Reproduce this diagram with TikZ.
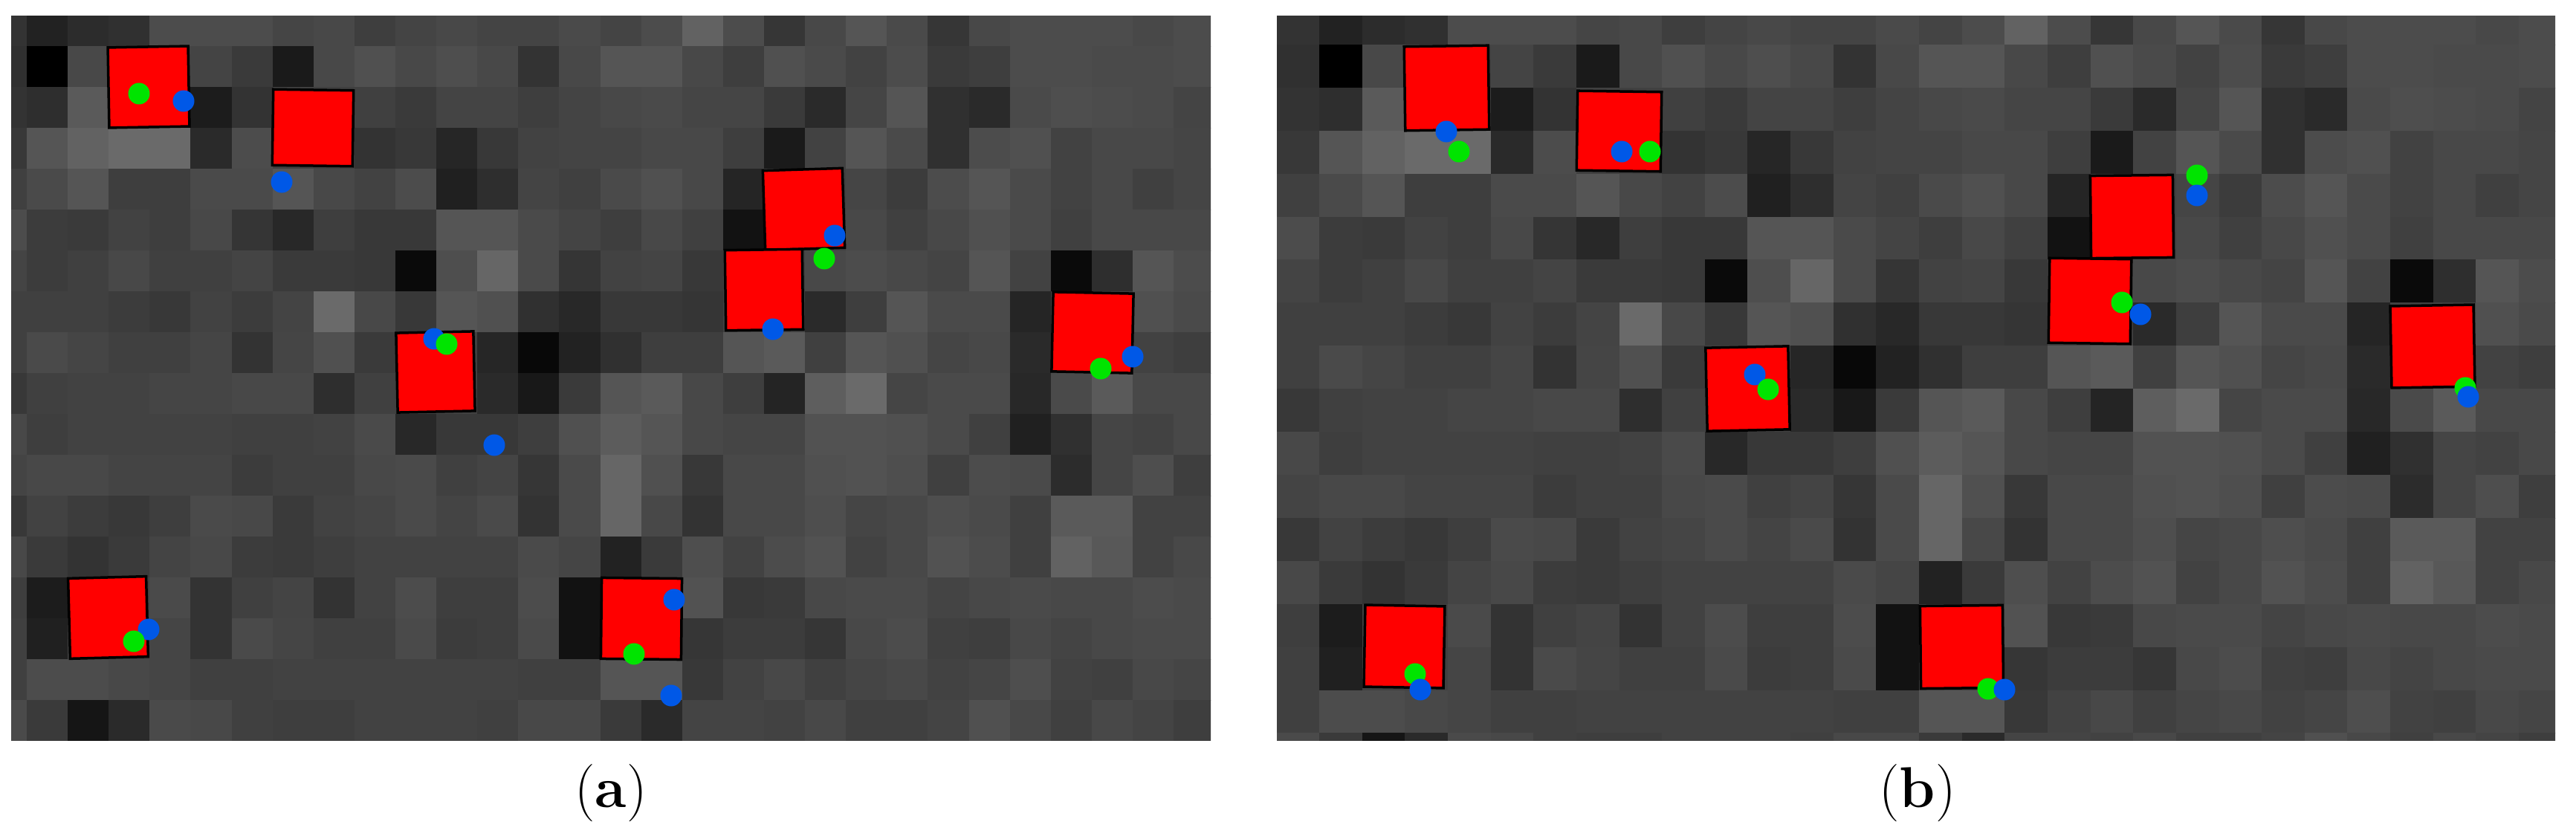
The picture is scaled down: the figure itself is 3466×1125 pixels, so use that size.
\documentclass[tikz,border=0pt]{standalone}
\usepackage{tikz}
\definecolor{boxred}{RGB}{255,0,0}
\definecolor{dotgreen}{RGB}{0,228,0}
\definecolor{dotblue}{RGB}{0,88,231}
\tikzset{
  boxst/.style={fill=boxred, draw=black, line width=0.035cm, line join=miter},
  gdot/.style={fill=dotgreen},
  bdot/.style={fill=dotblue},
  lbl/.style={anchor=base, inner sep=0pt, font=\fontsize{22}{26}\selectfont}
}
\newcommand\imgrows{%
0/{51,34,44,48,76,76,76,69,72,62,68,72,68,68,74,68,76,98,76,54,72,85,74,54,72,76,76,76,72,76},
1/{48,0,72,64,64,68,58,26,72,80,72,78,72,51,72,85,85,72,62,80,74,66,76,58,62,76,76,74,74,76},
2/{51,46,90,64,64,28,51,64,64,64,58,68,68,62,68,72,74,69,69,58,42,69,85,48,42,74,78,76,74,68},
3/{56,85,98,106,106,42,76,64,64,51,56,38,56,66,68,68,72,72,62,26,66,85,74,48,76,80,66,72,72,69},
4/{64,74,85,62,62,74,74,85,72,66,76,32,46,68,64,74,80,72,37,64,64,69,60,76,85,74,66,72,64,69},
5/{76,60,58,66,62,72,53,40,62,56,56,85,85,74,68,62,72,64,18,64,64,72,64,72,80,74,64,72,72,72},
6/{68,60,64,72,64,64,68,58,58,56,10,78,102,74,53,66,68,56,64,64,72,76,72,68,85,66,10,46,85,76},
7/{64,64,64,60,56,66,60,68,106,72,56,85,80,48,40,56,56,53,64,64,42,62,85,74,74,37,64,64,80,74},
8/{64,74,69,64,64,69,51,69,80,58,64,64,38,8,34,48,62,62,85,90,64,85,80,69,72,42,64,64,66,62},
9/{56,64,66,66,69,69,72,72,46,64,64,64,42,24,58,85,90,72,62,36,94,106,69,74,74,40,74,90,72,72},
10/{72,62,66,66,66,66,64,64,66,74,40,56,56,62,80,92,85,72,69,69,82,82,80,74,64,32,48,69,66,72},
11/{68,72,72,68,68,68,60,64,64,72,74,64,68,54,74,102,80,56,72,72,80,82,78,64,76,74,44,69,78,62},
12/{56,66,60,56,62,74,72,58,66,69,74,68,74,51,74,102,72,51,72,72,78,69,72,78,74,64,90,90,66,66},
13/{72,58,51,58,68,72,60,58,62,66,66,66,66,74,69,34,58,78,66,76,82,66,72,82,76,64,98,88,66,72},
14/{62,28,64,64,74,51,64,68,51,66,76,62,62,76,18,64,64,82,56,58,72,74,74,68,72,74,72,72,76,74},
15/{64,32,64,64,69,51,74,69,64,64,74,60,62,74,18,64,64,54,60,60,54,72,76,64,62,72,68,72,74,74},
16/{64,76,76,72,69,64,64,66,66,66,66,66,66,64,64,85,85,56,66,72,64,69,72,66,69,78,66,64,72,69},
17/{74,58,21,42,74,72,64,62,62,66,66,66,64,72,72,58,42,68,68,66,72,64,64,68,80,72,64,72,68,62}}
% #1 x0, #2 y0, #3 cell width, #4 cell height, #5 clip corner 1, #6 clip corner 2
\newcommand\drawgrid[6]{%
  \begin{scope}
    \clip (#5) rectangle (#6);
    \foreach \r/\vals in \imgrows {
      \foreach \v [count=\c from 0] in \vals {
        \fill[fill={rgb,255:red,\v;green,\v;blue,\v}]
          ({#1+\c*#3},{#2+\r*#4}) rectangle ++({#3+0.8},{#4+0.8});
      }
    }
  \end{scope}}
% red box: x1,y1,x2,y2, rotation angle
\newcommand\redbox[5]{%
  \filldraw[boxst, rotate around={#5:({(#1+#3)/2},{(#2+#4)/2})}] (#1,#2) rectangle (#3,#4);}
\begin{document}
\begin{tikzpicture}[x=0.01cm, y=-0.01cm]
\useasboundingbox (0,0) rectangle (3466,1125);
\fill[white] (0,0) rectangle (3466,1125);

% ---------------- panel (a) ----------------
\drawgrid{-19.11}{7.0}{55.11}{55.0}{15,22}{1629,996}
\redbox{146}{63}{254}{171}{1}
\redbox{367}{121}{475}{223}{-0.8}
\redbox{534}{447}{638}{554}{1.2}
\redbox{1028}{228}{1135}{335}{1.8}
\redbox{976}{336}{1080}{444}{0.8}
\redbox{1416}{394}{1524}{501}{-1.2}
\redbox{93}{777}{198}{885}{1.5}
\redbox{809}{778}{917}{887}{-0.6}

\fill[gdot] (187,126) circle[radius=0.145cm];
\fill[bdot] (247,136) circle[radius=0.145cm];
\fill[bdot] (379,245) circle[radius=0.145cm];
\fill[bdot] (584,456) circle[radius=0.145cm];
\fill[gdot] (601,463) circle[radius=0.145cm];
\fill[bdot] (665,599) circle[radius=0.145cm];
\fill[bdot] (1123,317) circle[radius=0.145cm];
\fill[gdot] (1109,348) circle[radius=0.145cm];
\fill[bdot] (1040,443) circle[radius=0.145cm];
\fill[gdot] (1481,496) circle[radius=0.145cm];
\fill[bdot] (1524,480) circle[radius=0.145cm];
\fill[bdot] (200,847) circle[radius=0.145cm];
\fill[gdot] (180,863) circle[radius=0.145cm];
\fill[bdot] (907,807) circle[radius=0.145cm];
\fill[gdot] (853,880) circle[radius=0.145cm];
\fill[bdot] (903,936) circle[radius=0.145cm];

% ---------------- panel (b) ----------------
\drawgrid{1717.4}{2.1}{57.64}{57.9}{1718,22}{3438,996}
\redbox{1890}{62}{2003}{175}{0.8}
\redbox{2122}{123}{2235}{230}{-0.8}
\redbox{2296}{467}{2407}{579}{1.2}
\redbox{2813}{236}{2924}{347}{0.6}
\redbox{2757}{348}{2867}{462}{-0.8}
\redbox{3217}{411}{3329}{521}{1.0}
\redbox{1836}{815}{1943}{925}{-1.0}
\redbox{2584}{815}{2695}{926}{0.6}

\fill[bdot] (1946,177) circle[radius=0.145cm];
\fill[gdot] (1963,204) circle[radius=0.145cm];
\fill[bdot] (2182,204) circle[radius=0.145cm];
\fill[gdot] (2220,204) circle[radius=0.145cm];
\fill[bdot] (2361,504) circle[radius=0.145cm];
\fill[gdot] (2379,524) circle[radius=0.145cm];
\fill[gdot] (2956,236) circle[radius=0.145cm];
\fill[bdot] (2956,263) circle[radius=0.145cm];
\fill[gdot] (2855,407) circle[radius=0.145cm];
\fill[bdot] (2880,423) circle[radius=0.145cm];
\fill[gdot] (3317,522) circle[radius=0.145cm];
\fill[bdot] (3321,534) circle[radius=0.145cm];
\fill[gdot] (1904,907) circle[radius=0.145cm];
\fill[bdot] (1911,928) circle[radius=0.145cm];
\fill[gdot] (2675,927) circle[radius=0.145cm];
\fill[bdot] (2697,928) circle[radius=0.145cm];

% ---------------- labels ----------------
\node[lbl] (la) at (822,1086) {(\textbf{a})};
\node[lbl] (lb) at (2580,1086) {(\textbf{b})};
\end{tikzpicture}
\end{document}
